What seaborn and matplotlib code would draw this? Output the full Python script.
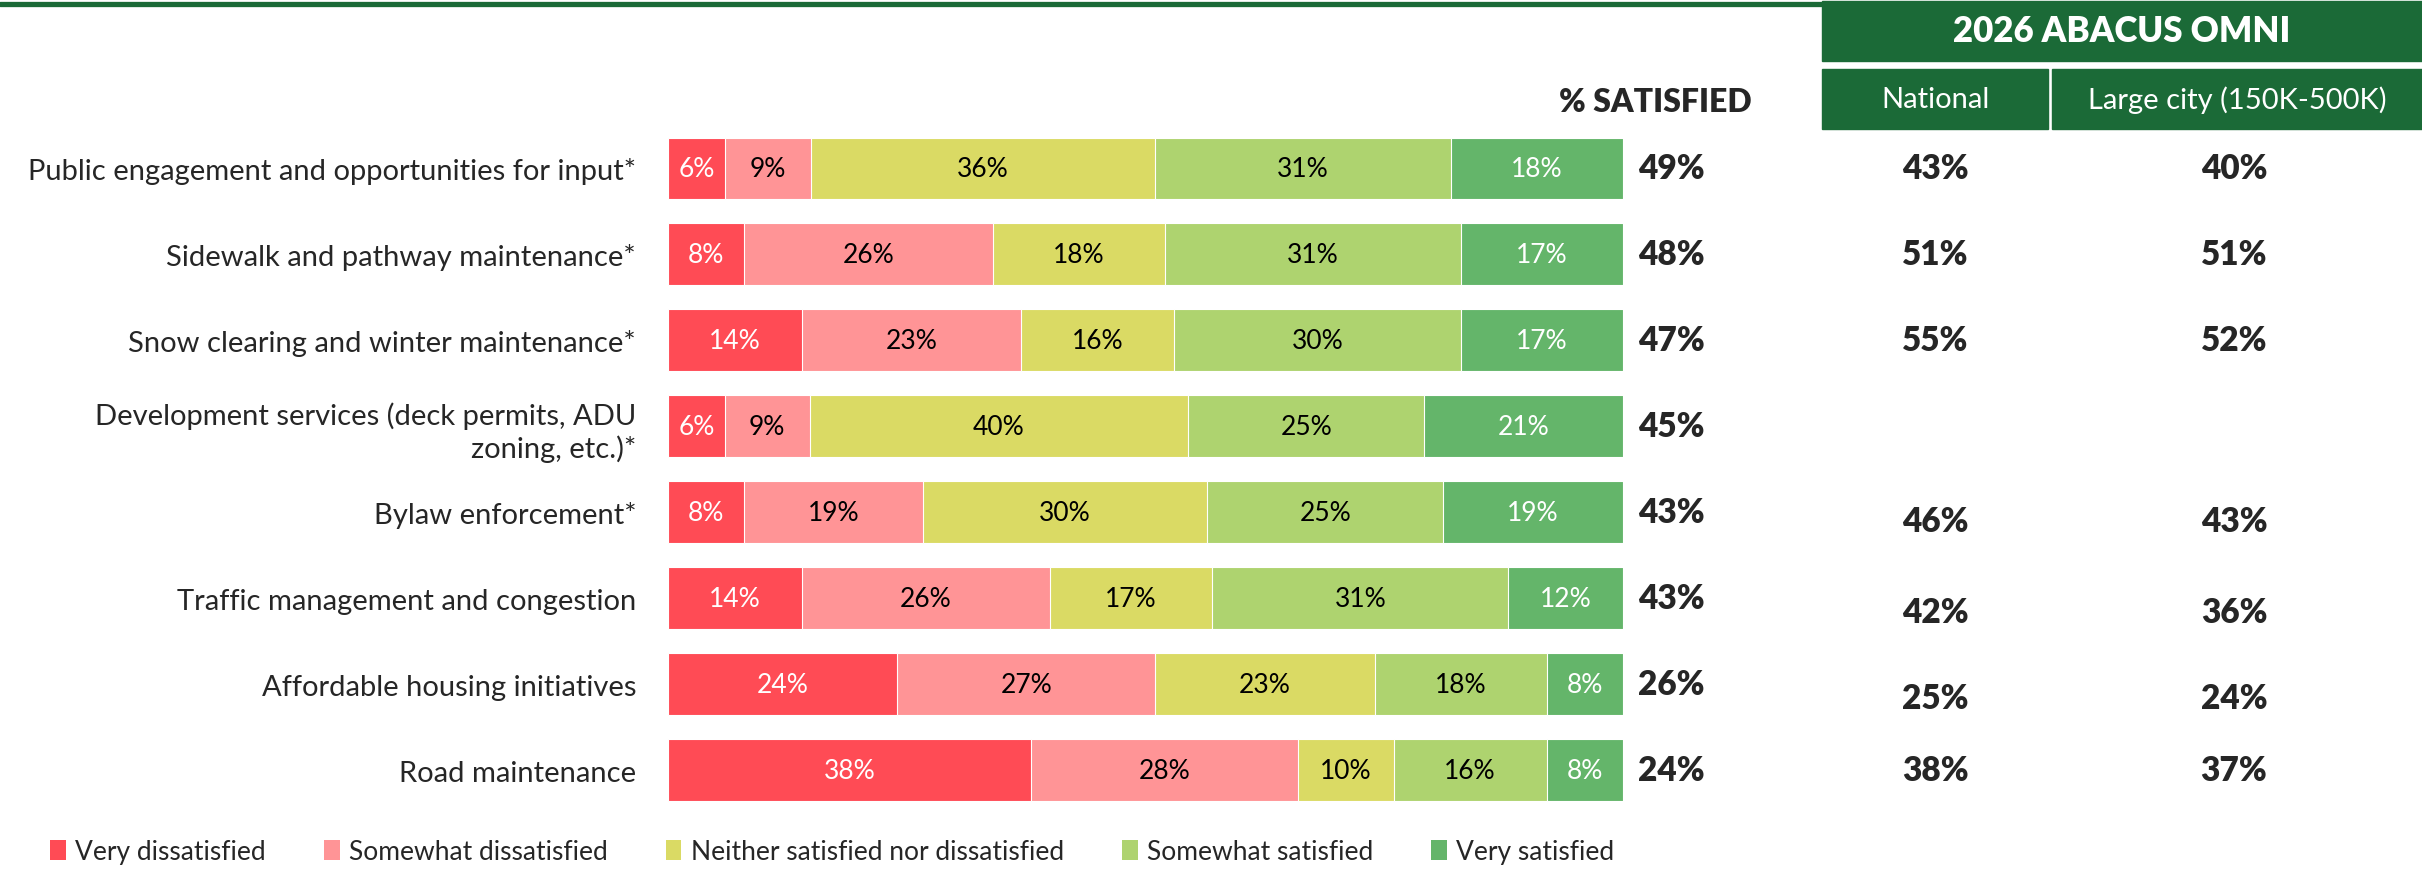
import numpy as np
import pandas as pd
import seaborn as sns
import matplotlib.pyplot as plt
from matplotlib.patches import Rectangle, Patch
from matplotlib.lines import Line2D
from matplotlib.transforms import blended_transform_factory

# ---- data ----
categories = [
    "Public engagement and opportunities for input*",
    "Sidewalk and pathway maintenance*",
    "Snow clearing and winter maintenance*",
    "Development services (deck permits, ADU\nzoning, etc.)*",
    "Bylaw enforcement*",
    "Traffic management and congestion",
    "Affordable housing initiatives",
    "Road maintenance",
]
levels = ["Very dissatisfied", "Somewhat dissatisfied",
          "Neither satisfied nor dissatisfied", "Somewhat satisfied", "Very satisfied"]
very_dis = [6, 8, 14, 6, 8, 14, 24, 38]
some_dis = [9, 26, 23, 9, 19, 26, 27, 28]
neither = [36, 18, 16, 40, 30, 17, 23, 10]
some_sat = [31, 31, 30, 25, 25, 31, 18, 16]
very_sat = [18, 17, 17, 21, 19, 12, 8, 8]
pct_satisfied = [49, 48, 47, 45, 43, 43, 26, 24]
national = [43, 51, 55, None, 46, 42, 25, 38]
large_city = [40, 51, 52, None, 43, 36, 24, 37]
omni_cols = ["National", "Large city (150K-500K)"]
omni_title = "2026 ABACUS OMNI"

colors = ["#FF4B55", "#FF9496", "#DADA64", "#AED36F", "#64B56A"]
text_colors = ["white", "black", "black", "black", "white"]
dark_green = "#1B6A37"

W, H = 2422, 870
sns.set_style("white")
plt.rcParams["font.family"] = ["Lato", "DejaVu Sans"]

fig = plt.figure(figsize=(W / 100, H / 100), dpi=100)
ax = fig.add_axes([668 / W, 1 - 814 / H, 955 / W, 687.5 / H])

vals = np.array([very_dis, some_dis, neither, some_sat, very_sat], dtype=float).T
shares = vals / vals.sum(axis=1, keepdims=True) * 100
cum = shares.cumsum(axis=1)

# stacked bars: draw cumulative totals from longest to shortest
for k in reversed(range(len(levels))):
    df = pd.DataFrame({"category": categories, "value": cum[:, k]})
    sns.barplot(data=df, x="value", y="category", orient="y", color=colors[k],
                saturation=1, width=0.72, edgecolor="white", linewidth=0.8, ax=ax)

for i in range(len(categories)):
    for k in range(len(levels)):
        mid = cum[i, k] - shares[i, k] / 2
        ax.text(mid, i, f"{int(vals[i, k])}%", ha="center", va="center",
                fontsize=19, color=text_colors[k])
    ax.text(101.6, i, f"{pct_satisfied[i]}%", ha="left", va="center",
            fontsize=24, fontweight="heavy", clip_on=False)

ax.set_xlim(0, 100)
ax.set_ylim(len(categories) - 0.5, -0.5)
ax.set_xlabel("")
ax.set_ylabel("")
ax.set_xticks([])
ax.tick_params(axis="y", length=0, pad=23, labelsize=21)
for lab in ax.get_yticklabels():
    lab.set_linespacing(1.25)
sns.despine(ax=ax, left=True, bottom=True)

# omni comparison table
tr = blended_transform_factory(fig.transFigure, ax.transData)
omni_nudge = [0, 0, 0, 0, 0.1, 0.16, 0.16, 0]
for i in range(len(categories)):
    for col, xc in zip([national, large_city], [1935, 2234]):
        if col[i] is not None:
            ax.text(xc / W, i + omni_nudge[i], f"{col[i]}%", transform=tr,
                    ha="center", va="center", fontsize=24, fontweight="heavy",
                    clip_on=False)

# header graphics
fig.add_artist(Line2D([0, 1], [1 - 4.5 / H, 1 - 4.5 / H], color=dark_green,
                      linewidth=3.8, transform=fig.transFigure))
fig.add_artist(Rectangle((1822 / W, 1 - 62 / H), 600 / W, 60 / H,
                         color=dark_green, transform=fig.transFigure))
fig.add_artist(Rectangle((1822 / W, 1 - 130 / H), 226 / W, 60 / H,
                         color=dark_green, transform=fig.transFigure))
fig.add_artist(Rectangle((2052 / W, 1 - 130 / H), 370 / W, 60 / H,
                         color=dark_green, transform=fig.transFigure))
fig.text(2122 / W, 1 - 32 / H, omni_title, ha="center", va="center",
         fontsize=25, fontweight="heavy", color="white")
fig.text(1935 / W, 1 - 100 / H, omni_cols[0], ha="center", va="center",
         fontsize=21, color="white")
fig.text(2237 / W, 1 - 100 / H, omni_cols[1], ha="center", va="center",
         fontsize=21, color="white")
fig.text(1655 / W, 1 - 102 / H, "% SATISFIED", ha="center", va="center",
         fontsize=23, fontweight="heavy")

# legend
handles = [Patch(facecolor=c, edgecolor="none") for c in colors]
fig.legend(handles, levels, loc="center left", bbox_to_anchor=(50 / W, 1 - 853 / H),
           ncol=5, frameon=False, fontsize=19, handlelength=0.6, handleheight=0.8,
           handletextpad=0.35, columnspacing=2.2, borderpad=0, borderaxespad=0)

fig.savefig("out.png", dpi=100)
